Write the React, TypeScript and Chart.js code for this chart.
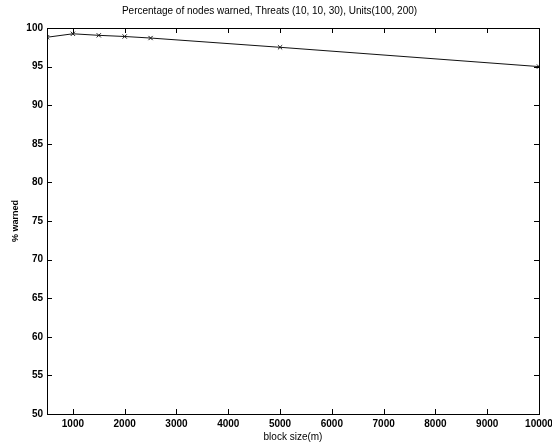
import React, { useEffect, useRef } from "react";
import { Chart, registerables } from "chart.js";

Chart.register(...registerables);

const blockSizes = [500, 1000, 1500, 2000, 2500, 5000, 10000];
const warnedPct = [98.8, 99.25, 99.05, 98.9, 98.7, 97.5, 95.0];
const xTicks = [1000, 2000, 3000, 4000, 5000, 6000, 7000, 8000, 9000, 10000];
const yTicks = [50, 55, 60, 65, 70, 75, 80, 85, 90, 95, 100];
const titleText = "Percentage of nodes warned, Threats (10, 10, 30), Units(100, 200)";
const xLabel = "block size(m)";
const yLabel = "% warned";

const boxPlugin = {
  id: "matlabBox",
  afterDraw(chart: any) {
    const { ctx, chartArea, scales } = chart;
    const { left, right, top, bottom } = chartArea;
    ctx.save();
    ctx.strokeStyle = "#000";
    ctx.lineWidth = 1;
    ctx.strokeRect(left + 0.5, top + 0.5, right - left, bottom - top);
    const len = 5;
    ctx.beginPath();
    scales.x.ticks.forEach((t: any) => {
      const px = Math.round(scales.x.getPixelForValue(t.value)) + 0.5;
      ctx.moveTo(px, bottom);
      ctx.lineTo(px, bottom - len);
      ctx.moveTo(px, top);
      ctx.lineTo(px, top + len);
    });
    scales.y.ticks.forEach((t: any) => {
      const py = Math.round(scales.y.getPixelForValue(t.value)) + 0.5;
      ctx.moveTo(left, py);
      ctx.lineTo(left + len, py);
      ctx.moveTo(right, py);
      ctx.lineTo(right - len, py);
    });
    ctx.stroke();
    ctx.restore();
  },
};

export default function App() {
  const ref = useRef<HTMLCanvasElement>(null);
  useEffect(() => {
    document.body.style.margin = "0";
    const font = { family: "'Liberation Sans', Arial, sans-serif", size: 10 };
    const chart = new Chart(ref.current!, {
      type: "line",
      data: {
        datasets: [
          {
            data: blockSizes.map((x, i) => ({ x, y: warnedPct[i] })),
            borderColor: "#111",
            borderWidth: 1,
            pointStyle: "crossRot",
            pointRadius: 3,
            pointBorderColor: "#111",
            pointBorderWidth: 1,
            fill: false,
            tension: 0,
          },
        ],
      },
      options: {
        animation: false,
        responsive: false,
        maintainAspectRatio: false,
        layout: { padding: { left: 0, right: 13, top: 0, bottom: 0 } },
        plugins: {
          legend: { display: false },
          tooltip: { enabled: false },
          title: {
            display: true,
            text: titleText,
            color: "#000",
            font: { ...font, size: 10, weight: "normal" },
            padding: { top: 5, bottom: 11 },
          },
        },
        scales: {
          x: {
            type: "linear",
            min: 500,
            max: 10000,
            afterBuildTicks(scale: any) {
              scale.ticks = xTicks.map((v) => ({ value: v }));
            },
            afterFit(scale: any) {
              scale.height = 30;
              scale.paddingLeft = 0;
              scale.paddingRight = 0;
            },
            grid: { display: false, drawTicks: false },
            border: { display: false },
            ticks: {
              color: "#000",
              font: { ...font, weight: "bold" },
              padding: 4,
              maxRotation: 0,
              autoSkip: false,
              callback: (v: any) => String(v),
            },
            title: { display: true, text: xLabel, color: "#000", font, padding: { top: 0, bottom: 1 } },
          },
          y: {
            type: "linear",
            min: 50,
            max: 100,
            afterBuildTicks(scale: any) {
              scale.ticks = yTicks.map((v) => ({ value: v }));
            },
            afterFit(scale: any) {
              scale.width = 47;
              scale.paddingTop = 0;
              scale.paddingBottom = 0;
            },
            grid: { display: false, drawTicks: false },
            border: { display: false },
            ticks: { color: "#000", font: { ...font, weight: "bold" }, padding: 4, autoSkip: false, callback: (v: any) => String(v) },
            title: { display: true, text: yLabel, color: "#000", font: { ...font, weight: "bold", size: 9 }, padding: { top: 10, bottom: 0 } },
          },
        },
      },
      plugins: [boxPlugin],
    } as any);
    return () => chart.destroy();
  }, []);
  return (
    <div style={{ width: 552, height: 444, background: "#fff" }}>
      <canvas ref={ref} width={552} height={444} style={{ display: "block" }} />
    </div>
  );
}
